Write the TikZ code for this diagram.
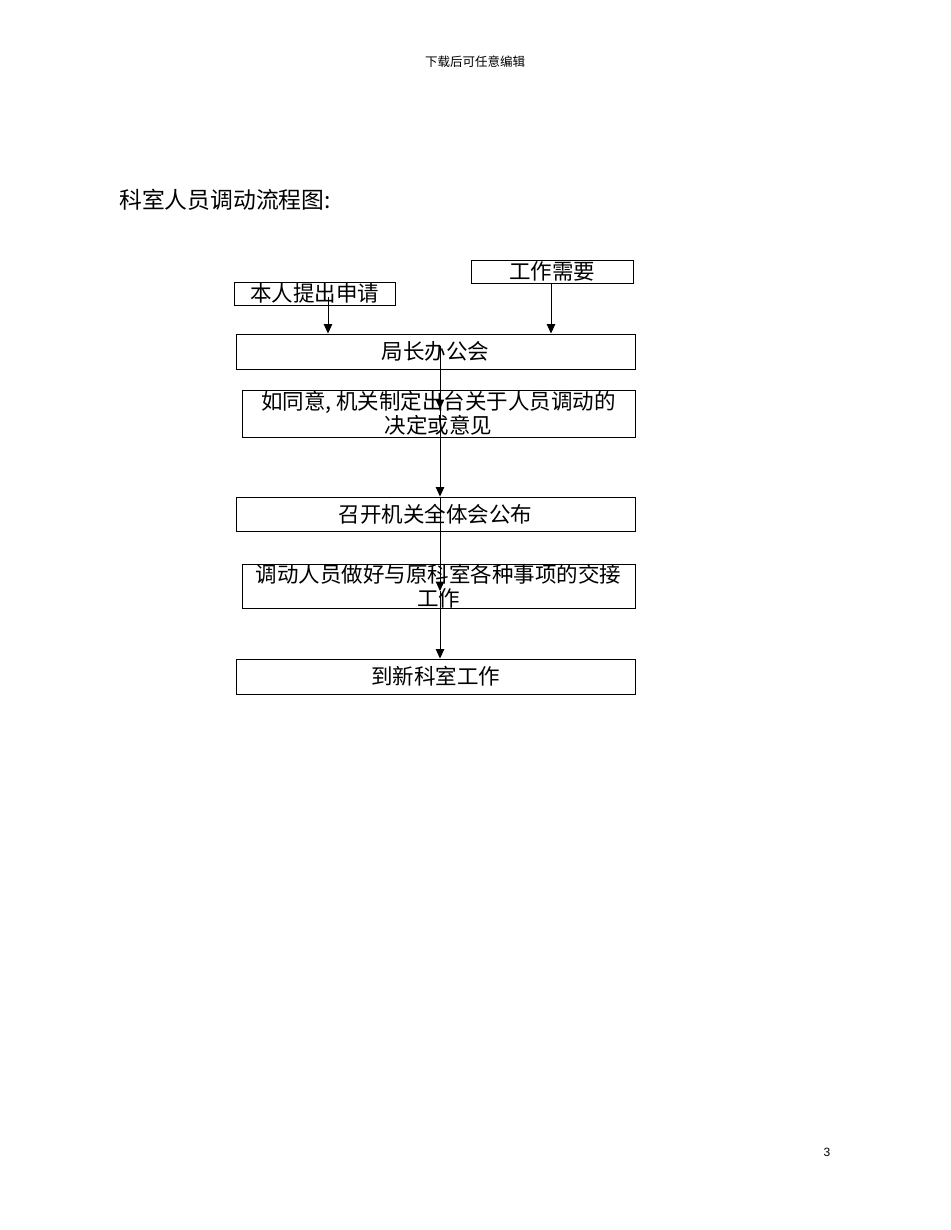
\documentclass[tikz,border=0pt]{standalone}
\usepackage{fontspec}
\newfontfamily\cjk{Noto Sans CJK SC}
\setmainfont{Liberation Sans}
\usetikzlibrary{arrows.meta}
\begin{document}
\begin{tikzpicture}[x=1pt,y=-1pt,
  box/.style={draw=black,line width=0.9pt,inner sep=0pt,anchor=center,
    font=\cjk\fontsize{21.5}{24}\selectfont,align=center},
  arr/.style={line width=1pt,-{Triangle[length=9.5pt,width=8.5pt]}}]
\useasboundingbox (0,0) rectangle (950,1230);
\fill[white] (0,0) rectangle (950,1230);
\node[font=\cjk\fontsize{12.5}{14}\selectfont] (hdr) at (475,62) {下载后可任意编辑};
\node[font=\cjk\fontsize{22.8}{24}\selectfont,anchor=west,inner sep=0pt] (title) at (119,200) {科室人员调动流程图:};
\node[box,minimum width=161pt,minimum height=23pt] (b1) at (314.5,293.5) {本人提出申请};
\node[box,minimum width=162pt,minimum height=23pt] (b2) at (552,271.5) {工作需要};
\node[box,minimum width=399pt,minimum height=35pt] (b3) at (435.5,351.5) {局长办公会};
\node[box,minimum width=393pt,minimum height=47pt] (b4) at (438.5,413.5) {如同意, 机关制定出台关于人员调动的\\决定或意见};
\node[box,minimum width=399pt,minimum height=34pt] (b5) at (435.5,514) {召开机关全体会公布};
\node[box,minimum width=393pt,minimum height=43pt] (b6) at (438.5,586.5) {调动人员做好与原科室各种事项的交接\\工作};
\node[box,minimum width=399pt,minimum height=35pt] (b7) at (435.5,676.5) {到新科室工作};
\node[font=\fontsize{12}{14}\selectfont] (pg) at (827,1152) {3};
\coordinate (s1) at (328,297);
\coordinate (s2) at (551,283);
\coordinate (m1) at (440,346);
\coordinate (m2) at (440,409);
\coordinate (m4) at (440,591);
\draw[arr] (s1) -- (s1 |- b3.north);
\draw[arr] (s2) -- (s2 |- b3.north);
\draw[arr] (m1) -- (m2);
\draw[arr] (m2) -- (m2 |- b5.north);
\draw[arr] (m2 |- b5.north) -- (m4);
\draw[arr] (m4) -- (m4 |- b7.north);
\end{tikzpicture}
\end{document}
